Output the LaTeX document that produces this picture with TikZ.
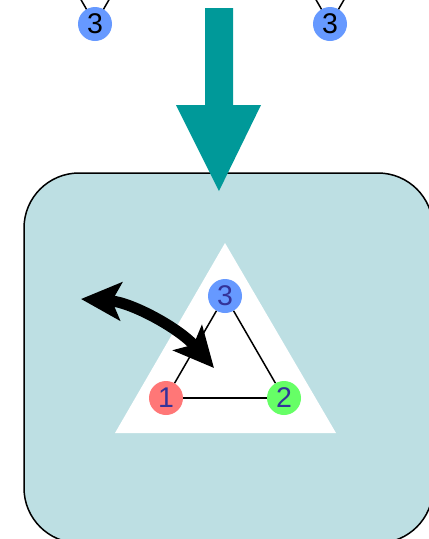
\documentclass[tikz,border=0pt]{standalone}
\usepackage{fontspec}
\setmainfont{Liberation Sans}
\usetikzlibrary{arrows.meta}
\definecolor{teal1}{HTML}{009999}
\definecolor{boxbg}{HTML}{BDDFE3}
\definecolor{nblue}{HTML}{6699FF}
\definecolor{nred}{HTML}{FF7777}
\definecolor{ngreen}{HTML}{66FF66}
\definecolor{ntext}{HTML}{333399}
\tikzset{
  vert/.style={circle, minimum size=34pt, inner sep=0pt, font=\fontsize{28.5}{28.5}\selectfont},
  edgeline/.style={line width=1.5pt, black},
}
\begin{document}
\begin{tikzpicture}[x=1pt, y=-1pt]
\useasboundingbox (0,0) rectangle (429,539);
% top partial graphs
\coordinate (tla) at (65,-28);
\coordinate (tlb) at (125,-28);
\coordinate (tra) at (300,-28);
\coordinate (trb) at (360,-28);
\draw[edgeline] (95,24) -- (tla) (95,24) -- (tlb);
\draw[edgeline] (330,24) -- (tra) (330,24) -- (trb);
\node[vert, fill=nblue, text=black] (t1) at (95,24) {3};
\node[vert, fill=nblue, text=black] (t2) at (330,24) {3};
% rounded box
\draw[line width=1.5pt, fill=boxbg, rounded corners=55pt] (24,173) rectangle (433,543);
% teal arrow
\fill[teal1] (205,8) -- (233,8) -- (233,105) -- (261,105) -- (219,191) -- (176,105) -- (205,105) -- cycle;
% white triangle
\fill[white] (225,243) -- (336,433) -- (115,433) -- cycle;
% inner graph
\node[vert, fill=nblue, text=ntext] (n3) at (225,296) {3};
\node[vert, fill=nred, text=ntext] (n1) at (166,398) {1};
\node[vert, fill=ngreen, text=ntext] (n2) at (284,398) {2};
\draw[edgeline] (n3) -- (n1);
\draw[edgeline] (n3) -- (n2);
\draw[edgeline] (n1) -- (n2);
% curved double arrow
\coordinate (ca) at (81,299);
\coordinate (cb) at (214,368);
\draw[line width=11pt, {Stealth[length=40pt,width=38pt,inset=9pt]}-{Stealth[length=40pt,width=38pt,inset=9pt]}]
  (ca) .. controls (131,302) and (179,328) .. (cb);
\end{tikzpicture}
\end{document}
